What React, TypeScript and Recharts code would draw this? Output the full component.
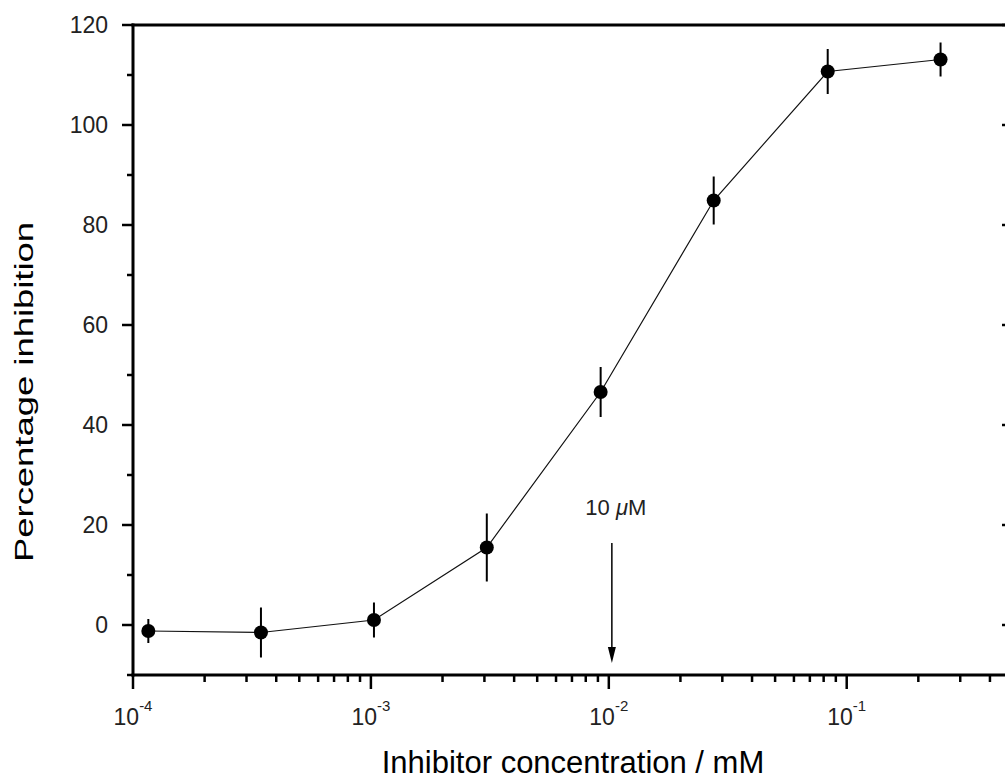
import { ComposedChart, Line, XAxis, YAxis, ErrorBar, ReferenceLine, Label } from 'recharts';

// inhibitor concentration (mM), 3-fold dilution series
const concentration = [0.000116, 0.000345, 0.00103, 0.00307, 0.00924, 0.0276, 0.0832, 0.248];
const inhibition = [-1.2, -1.5, 1.0, 15.5, 46.6, 84.9, 110.7, 113.1];
const inhibitionError = [2.4, 5.0, 3.5, 6.8, 5.0, 4.8, 4.5, 3.4];

const decades = [0.0001, 0.001, 0.01, 0.1];
const decadeExponents = ['-4', '-3', '-2', '-1'];
const minorSteps = [2, 3, 4, 5, 6, 7, 8, 9];
const xDomain = [0.0001, 0.5];

const yTicks = [-10, 0, 10, 20, 30, 40, 50, 60, 70, 80, 90, 100, 110, 120];
const yLabelled = [0, 20, 40, 60, 80, 100, 120];

const arrowX = 0.0103;
const arrowFrom = 16.4;
const arrowTo = -7.6;
const arrowValue = '10';
const arrowUnit = 'M';

const xTicks = decades
  .flatMap((d) => [d, ...minorSteps.map((m) => d * m)])
  .filter((v) => v <= xDomain[1] * 1.0001);

const rows = concentration.map((c, i) => ({ conc: c, inh: inhibition[i], err: inhibitionError[i] }));

const FONT = '"Liberation Sans", Arial, Helvetica, sans-serif';
const AXIS = { stroke: '#000', strokeWidth: 3, strokeLinecap: 'square' as const };

const isDecade = (v: number) => decades.some((d) => Math.abs(d - v) < d * 1e-6);

const BottomTick = ({ x, y, payload }: any) => {
  const v = payload.value;
  const major = isDecade(v);
  const idx = decades.findIndex((d) => Math.abs(d - v) < d * 1e-6);
  return (
    <g>
      <line x1={x} y1={y} x2={x} y2={y + (major ? 14 : 7)} stroke="#000" strokeWidth={2.5} />
      {major && (
        <text x={x} y={y + 50} textAnchor="middle" fontFamily={FONT} fontSize={23} fill="#222">
          <tspan>10</tspan>
          <tspan dy={-14} fontSize={15}>{decadeExponents[idx]}</tspan>
        </text>
      )}
    </g>
  );
};

const TopTick = ({ x, y, payload }: any) => {
  const major = isDecade(payload.value);
  return <line x1={x} y1={y} x2={x} y2={y + (major ? 13 : 7)} stroke="#000" strokeWidth={2.5} />;
};

const LeftTick = ({ x, y, payload }: any) => {
  const v = payload.value;
  const major = yLabelled.includes(v);
  return (
    <g>
      <line x1={x} y1={y} x2={x - (major ? 11 : 6)} y2={y} stroke="#000" strokeWidth={2.5} />
      {major && (
        <text x={x - 25} y={y} dy="0.36em" textAnchor="end" fontFamily={FONT} fontSize={23} fill="#222">
          {v}
        </text>
      )}
    </g>
  );
};

const RightTick = ({ x, y, payload }: any) => {
  const major = yLabelled.includes(payload.value);
  return <line x1={x} y1={y} x2={x - (major ? 11 : 6)} y2={y} stroke="#000" strokeWidth={2.5} />;
};

const XTitle = (props: any) => {
  const vb = props.viewBox;
  return (
    <text x={vb.x + vb.width / 2} y={vb.y + 98} textAnchor="middle" fontFamily={FONT} fontSize={31} fill="#000">
      Inhibitor concentration / mM
    </text>
  );
};

const YTitle = () => {
  const cx = 33;
  const cy = 392;
  return (
    <text
      x={cx}
      y={cy}
      transform={`rotate(-90, ${cx}, ${cy})`}
      textAnchor="middle"
      fontFamily={FONT}
      fontSize={26}
      textLength={340}
      lengthAdjust="spacingAndGlyphs"
      fill="#000"
    >
      Percentage inhibition
    </text>
  );
};

const Arrow = (p: any) => {
  const { x1, y1, x2, y2 } = p;
  return (
    <g>
      <line x1={x1} y1={y1} x2={x2} y2={y2 - 12} stroke="#000" strokeWidth={1.5} />
      <polygon points={`${x2 - 4},${y2 - 16} ${x2 + 4},${y2 - 16} ${x2},${y2}`} fill="#000" />
      <text x={x1 + 4} y={y1 - 28} textAnchor="middle" fontFamily={FONT} fontSize={22} fill="#222">
        {arrowValue}{' '}
        <tspan fontStyle="italic">μ</tspan>
        {arrowUnit}
      </text>
    </g>
  );
};

export default function App() {
  return (
    <div style={{ position: 'fixed', left: 0, top: 0, width: 1005, height: 784, overflow: 'hidden', background: '#fff' }}>
      <ComposedChart width={1040} height={784} data={rows} margin={{ top: 24, right: 26, bottom: 0, left: 0 }}>
        <XAxis
          xAxisId="bottom"
          dataKey="conc"
          type="number"
          scale="log"
          domain={xDomain}
          allowDataOverflow
          ticks={xTicks}
          interval={0}
          tickSize={0}
          tickMargin={0}
          tickLine={false}
          axisLine={AXIS}
          tick={<BottomTick />}
          height={109}
        >
          <Label content={XTitle} />
        </XAxis>
        <XAxis
          xAxisId="top"
          orientation="top"
          type="number"
          scale="log"
          domain={xDomain}
          allowDataOverflow
          ticks={xTicks}
          interval={0}
          tickSize={0}
          tickMargin={0}
          tickLine={false}
          axisLine={AXIS}
          tick={<TopTick />}
          height={1}
        />
        <YAxis
          yAxisId="left"
          type="number"
          domain={[-10, 120]}
          allowDataOverflow
          ticks={yTicks}
          interval={0}
          tickSize={0}
          tickMargin={0}
          tickLine={false}
          axisLine={AXIS}
          tick={<LeftTick />}
          width={133}
        >
          <Label content={YTitle} />
        </YAxis>
        <YAxis
          yAxisId="right"
          orientation="right"
          type="number"
          domain={[-10, 120]}
          allowDataOverflow
          ticks={yTicks}
          interval={0}
          tickSize={0}
          tickMargin={0}
          tickLine={false}
          axisLine={AXIS}
          tick={<RightTick />}
          width={1}
        />
        <Line
          xAxisId="bottom"
          yAxisId="left"
          dataKey="inh"
          type="linear"
          stroke="#111"
          strokeWidth={1.2}
          dot={{ r: 7, fill: '#000', stroke: '#000', strokeWidth: 0 }}
          activeDot={false}
          isAnimationActive={false}
        >
          <ErrorBar dataKey="err" direction="y" width={0} stroke="#000" strokeWidth={2} isAnimationActive={false} />
        </Line>
        <ReferenceLine
          xAxisId="bottom"
          yAxisId="left"
          segment={[
            { x: arrowX, y: arrowFrom },
            { x: arrowX, y: arrowTo },
          ]}
          shape={Arrow}
        />
      </ComposedChart>
    </div>
  );
}
